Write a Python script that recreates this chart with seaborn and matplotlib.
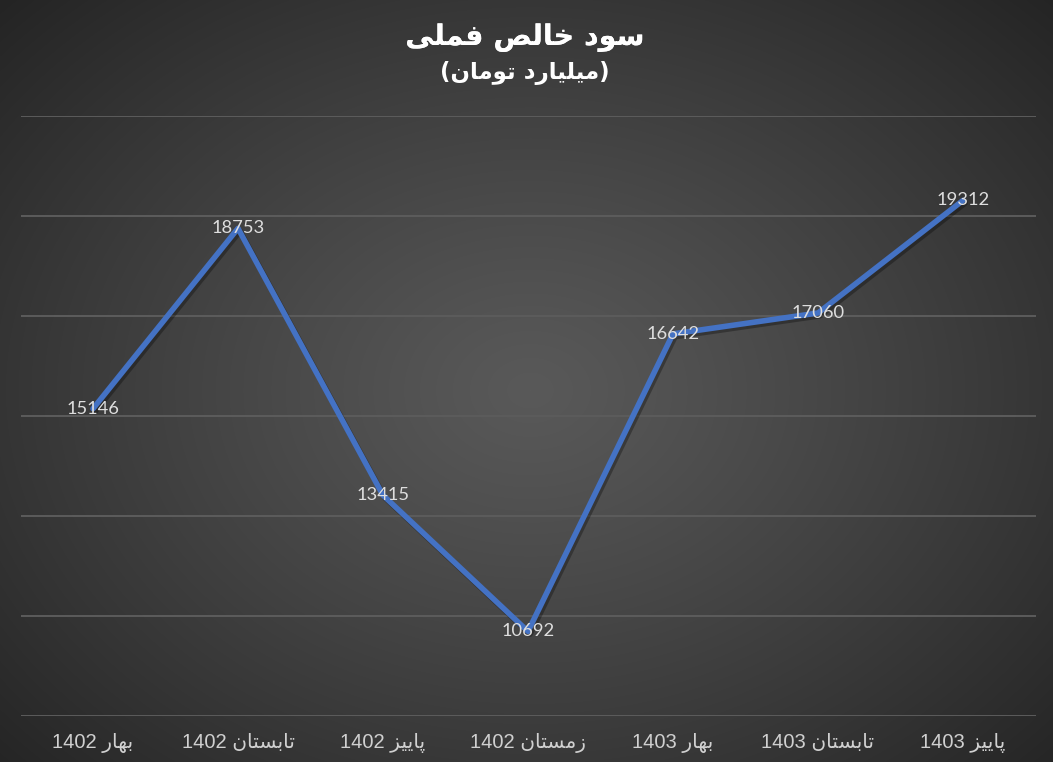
import numpy as np
import pandas as pd
import matplotlib
matplotlib.use("Agg")
import matplotlib.pyplot as plt
import matplotlib.patheffects as pe
import seaborn as sns

# data
seasons = ["بهار", "تابستان", "پاییز", "زمستان", "بهار", "تابستان", "پاییز"]
years = ["1402", "1402", "1402", "1402", "1403", "1403", "1403"]
profit = [15146, 18753, 13415, 10692, 16642, 17060, 19312]
title = "سود خالص فملی"
subtitle = "(میلیارد تومان)"

# minimal Persian shaping (matplotlib has no bidi/shaping)
FORMS = {
    "ا": ("\uFE8D", "\uFE8E"), "د": ("\uFEA9", "\uFEAA"), "ر": ("\uFEAD", "\uFEAE"),
    "ز": ("\uFEAF", "\uFEB0"), "و": ("\uFEED", "\uFEEE"),
    "ب": ("\uFE8F", "\uFE90", "\uFE91", "\uFE92"), "ت": ("\uFE95", "\uFE96", "\uFE97", "\uFE98"),
    "خ": ("\uFEA5", "\uFEA6", "\uFEA7", "\uFEA8"), "س": ("\uFEB1", "\uFEB2", "\uFEB3", "\uFEB4"),
    "ص": ("\uFEB9", "\uFEBA", "\uFEBB", "\uFEBC"), "ف": ("\uFED1", "\uFED2", "\uFED3", "\uFED4"),
    "ل": ("\uFEDD", "\uFEDE", "\uFEDF", "\uFEE0"), "م": ("\uFEE1", "\uFEE2", "\uFEE3", "\uFEE4"),
    "ن": ("\uFEE5", "\uFEE6", "\uFEE7", "\uFEE8"), "ه": ("\uFEE9", "\uFEEA", "\uFEEB", "\uFEEC"),
    "پ": ("\uFB56", "\uFB57", "\uFB58", "\uFB59"), "ی": ("\uFBFC", "\uFBFD", "\uFBFE", "\uFBFF"),
}


def rtl(text):
    out = []
    for i, ch in enumerate(text):
        if ch not in FORMS:
            out.append({"(": ")", ")": "("}.get(ch, ch))
            continue
        prev = text[i - 1] if i > 0 else ""
        nxt = text[i + 1] if i + 1 < len(text) else ""
        join_prev = prev in FORMS and len(FORMS[prev]) == 4
        join_next = len(FORMS[ch]) == 4 and nxt in FORMS
        f = FORMS[ch]
        if join_prev and join_next:
            out.append(f[3])
        elif join_prev:
            out.append(f[1])
        elif join_next:
            out.append(f[2])
        else:
            out.append(f[0])
    return "".join(out[::-1])


labels = [f"{y} {rtl(s)}" for s, y in zip(seasons, years)]
df = pd.DataFrame({"quarter": labels, "profit": profit})

sns.set_theme(style="white")
plt.rcParams["font.family"] = ["Liberation Sans", "DejaVu Sans"]

fig = plt.figure(figsize=(10.53, 7.62), dpi=100)

# radial gradient background
bg = fig.add_axes([0, 0, 1, 1], zorder=0)
W, H = 1053, 762
xx, yy = np.meshgrid(np.arange(W), np.arange(H))
r = np.sqrt(((xx - 530) / 560.0) ** 2 + ((yy - 390) / 430.0) ** 2)
r = np.clip(r / r.max(), 0, 1)
val = (89 - (89 - 36) * r ** 1.15) / 255.0
bg.imshow(np.dstack([val, val, val]), aspect="auto", extent=[0, 1, 0, 1])
bg.axis("off")

ax = fig.add_axes([20.5 / W, 1 - 716 / H, 1015 / W, 600 / H], zorder=1)
ax.patch.set_alpha(0)

sns.lineplot(data=df, x="quarter", y="profit", ax=ax, color="#4472C4",
             linewidth=4, sort=False,
             path_effects=[pe.SimpleLineShadow(offset=(1.5, -2), shadow_color="black", alpha=0.3),
                           pe.Normal()])

for i, v in enumerate(profit):
    ax.text(i, v, str(v), ha="center", va="center", color="#dedede",
            fontsize=13.2, family=["Lato", "DejaVu Sans"], zorder=5)

ax.set_xlim(-0.5, len(profit) - 0.5)
ax.set_ylim(9000, 21000)
ax.set_yticks(range(9000, 21001, 2000))
ax.set_yticklabels([])
ax.grid(axis="y", color="#5c5c5c", linewidth=1.4)
ax.set_axisbelow(True)
for s in ax.spines.values():
    s.set_visible(False)
ax.tick_params(axis="both", length=0)
ax.tick_params(axis="x", pad=12, labelcolor="#d0d0d0", labelsize=14.5)
ax.set_xlabel("")
ax.set_ylabel("")

shadow = [pe.withSimplePatchShadow(offset=(1, -1), shadow_rgbFace="black", alpha=0.4)]
fig.text(525 / W, 1 - 38 / H, rtl(title), ha="center", va="center", color="white",
         fontsize=20.5, fontweight="bold", family=["DejaVu Sans"],
         path_effects=[pe.withStroke(linewidth=0, foreground="white")])
fig.text(525 / W, 1 - 73 / H, rtl(subtitle), ha="center", va="center", color="white",
         fontsize=16.5, fontweight="bold", family=["DejaVu Sans"])

fig.savefig("out.png", dpi=100)
